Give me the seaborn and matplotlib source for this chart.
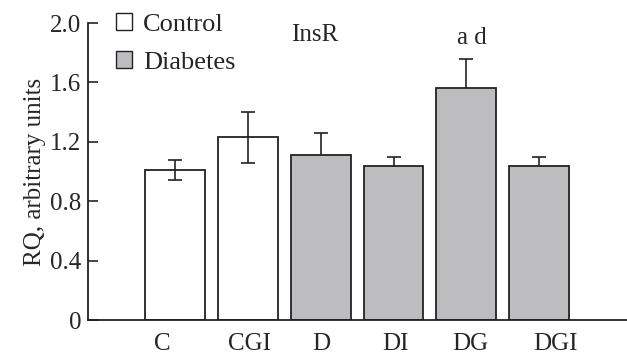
import pandas as pd
import matplotlib.pyplot as plt
import seaborn as sns
from matplotlib.patches import Patch

# Values
groups = ["C", "CGI", "D", "DI", "DG", "DGI"]
condition = ["Control", "Control", "Diabetes", "Diabetes", "Diabetes", "Diabetes"]
rq = [1.01, 1.23, 1.11, 1.04, 1.56, 1.04]
sem = [0.07, 0.17, 0.15, 0.06, 0.20, 0.06]

df = pd.DataFrame({"Group": groups, "Condition": condition, "RQ": rq, "SEM": sem})

sns.set_style("ticks")
plt.rcParams["font.family"] = ["Liberation Serif", "DejaVu Serif"]

gray = "#bcbdc1"
edge = "#222222"

fig = plt.figure(figsize=(6.27, 3.6), dpi=100)
ax = fig.add_axes([0.1404, 0.111, 0.8596, 0.825])

sns.barplot(data=df, x="Group", y="RQ", hue="Condition", dodge=False,
            palette={"Control": "white", "Diabetes": gray},
            width=0.82, edgecolor=edge, linewidth=1.3, legend=False, ax=ax,
            zorder=2)

# control bars are see-through so their lower whiskers show; grey bars hide them
for p in ax.patches:
    if p.get_facecolor()[:3] == (1.0, 1.0, 1.0):
        p.set_facecolor("none")

ax.errorbar(range(len(groups)), df["RQ"], yerr=df["SEM"], fmt="none",
            ecolor=edge, elinewidth=1.2, capsize=5, capthick=1.2, zorder=1)

ax.set_xlim(-1.2, 6.21)
ax.set_ylim(0, 2.0)
ax.set_yticks([0, 0.4, 0.8, 1.2, 1.6, 2.0])
ax.set_yticklabels(["0", "0.4", "0.8", "1.2", "1.6", "2.0"])
# group labels sit a little off the bar centres in the original
ax.set_xticks([-0.18, 1.02, 2.01, 3.03, 4.06, 5.23])
ax.set_xticklabels(groups)
ax.tick_params(axis="y", direction="in", length=7, width=1.2, labelsize=18, pad=5)
ax.tick_params(axis="x", length=0, labelsize=18, pad=9)
ax.set_xlabel("")
ax.set_ylabel("RQ, arbitrary units", fontsize=18, labelpad=3)
for s in ["top", "right"]:
    ax.spines[s].set_visible(False)
for s in ["left", "bottom"]:
    ax.spines[s].set_linewidth(1.3)
    ax.spines[s].set_color(edge)

handles = [Patch(facecolor="white", edgecolor=edge, linewidth=1.0, label="Control"),
           Patch(facecolor=gray, edgecolor=edge, linewidth=1.0, label="Diabetes")]
ax.legend(handles=handles, loc="upper left", bbox_to_anchor=(116 / 627, 1 - 13 / 360),
          bbox_transform=fig.transFigure, frameon=False, fontsize=19,
          handlelength=0.62, handleheight=0.62, handletextpad=0.4,
          labelspacing=0.58, borderpad=0, borderaxespad=0)

ax.text(1.91, 1.88, "InsR", fontsize=18, ha="center", va="baseline")
ax.text(4.08, 1.86, "a d", fontsize=18, ha="center", va="baseline")

fig.savefig("out.png", dpi=100)
